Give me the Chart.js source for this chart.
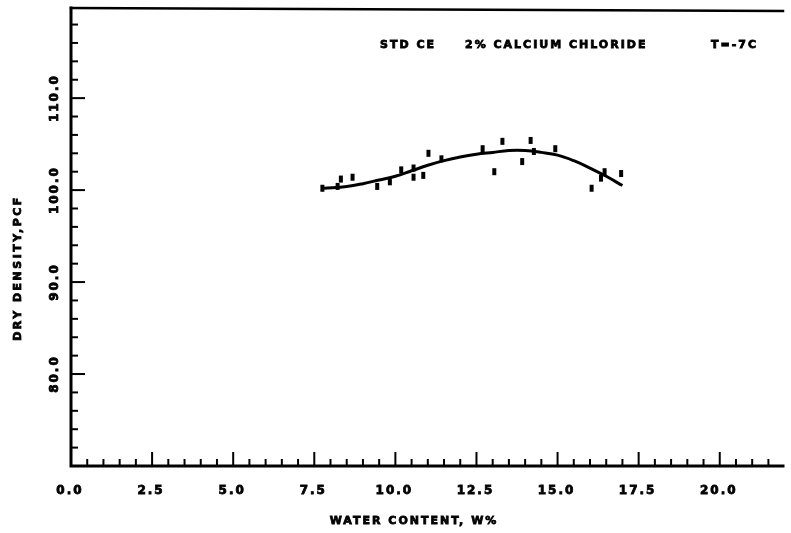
<!DOCTYPE html>
<html>
<head>
<meta charset="utf-8">
<script src="https://cdn.jsdelivr.net/npm/chart.js@4/dist/chart.umd.min.js"></script>
<style>
  html, body { margin: 0; padding: 0; background: #fff; }
  #c { display: block; }
</style>
</head>
<body>
<canvas id="c" width="791" height="533"></canvas>
<script>
// measured points (water content %, dry density pcf)
var pointX = [7.75, 8.22, 8.32, 8.68, 9.44, 9.83, 10.18, 10.56, 10.56, 10.86, 11.02, 11.42,
              12.69, 13.05, 13.30, 13.91, 14.17, 14.27, 14.93, 16.05, 16.34, 16.45, 16.96];
var pointY = [100.2, 100.4, 101.2, 101.4, 100.4, 100.9, 102.2, 102.4, 101.4, 101.6, 104.0, 103.4,
              104.5, 102.0, 105.3, 103.1, 105.4, 104.2, 104.5, 100.2, 101.3, 102.0, 101.8];

// fitted curve
var curveX = [7.8, 8.5, 9.0, 9.5, 10.0, 10.5, 11.0, 11.5, 12.0, 12.5, 13.0, 13.5, 14.0, 14.5, 15.0, 15.5, 16.0, 16.5, 17.0];
var curveY = [100.2, 100.4, 100.7, 101.1, 101.5, 102.1, 102.7, 103.2, 103.6, 103.9, 104.1, 104.3, 104.3, 104.1, 103.8, 103.2, 102.4, 101.5, 100.5];

// axis ticks and labels
var xMajor = [0, 2.5, 5, 7.5, 10, 12.5, 15, 17.5, 20];
var xMajorLabels = ['0.0', '2.5', '5.0', '7.5', '10.0', '12.5', '15.0', '17.5', '20.0'];
var yMajor = [80, 90, 100, 110];
var yMajorLabels = ['80.0', '90.0', '100.0', '110.0'];

var titleParts = ['STD CE', '2% CALCIUM CHLORIDE', 'T=-7C'];
var xTitle = 'WATER CONTENT, W%';
var yTitle = 'DRY DENSITY,PCF';

function toXY(xs, ys) {
    return xs.map(function(x, i) { return { x: x, y: ys[i] }; });
}

var FONT = '"DejaVu Sans", sans-serif';

// heavy text: fill + thin stroke, like the old plotter lettering
function heavyText(ctx, txt, x, y) {
    ctx.fillText(txt, x, y);
    ctx.strokeText(txt, x, y);
}

// ====== frame, inward ticks and text drawn with the chart's scales ======
var framePlugin = {
    id: 'frame',
    afterDraw: function(chart) {
        var ctx = chart.ctx;
        var xs = chart.scales.x, ys = chart.scales.y;
        var a = chart.chartArea;
        ctx.save();
        ctx.strokeStyle = '#000';
        ctx.fillStyle = '#000';
        ctx.lineCap = 'square';

        // axes lines + top border
        ctx.lineWidth = 3;
        ctx.beginPath();
        ctx.moveTo(a.left, a.top);
        ctx.lineTo(a.left, a.bottom);
        ctx.lineTo(a.right, a.bottom);
        ctx.stroke();
        ctx.lineWidth = 2.5;
        ctx.beginPath();
        ctx.moveTo(a.left, a.top);
        ctx.lineTo(a.right, a.top + 3);
        ctx.stroke();

        // x ticks (every 0.5, major every 2.5)
        ctx.lineWidth = 2;
        for (var v = 0.5; v <= xs.max + 1e-6; v += 0.5) {
            var px = xs.getPixelForValue(v);
            var major = Math.abs(v / 2.5 - Math.round(v / 2.5)) < 1e-6;
            ctx.beginPath();
            ctx.moveTo(px, a.bottom);
            ctx.lineTo(px, a.bottom - (major ? 13 : 6));
            ctx.stroke();
        }
        // y ticks (every 2, major every 10)
        for (var w = 72; w <= ys.max + 1e-6; w += 2) {
            var py = ys.getPixelForValue(w);
            var maj = w % 10 === 0;
            ctx.beginPath();
            ctx.moveTo(a.left, py);
            ctx.lineTo(a.left + (maj ? 13 : 6), py);
            ctx.stroke();
        }

        ctx.lineWidth = 0.8;
        // x tick labels
        ctx.font = 'bold 12px ' + FONT;
        ctx.letterSpacing = '2px';
        ctx.textAlign = 'center';
        ctx.textBaseline = 'middle';
        xMajor.forEach(function(v, i) {
            heavyText(ctx, xMajorLabels[i], xs.getPixelForValue(v) - 1, 491);
        });

        // y tick labels, rotated
        yMajor.forEach(function(v, i) {
            ctx.save();
            ctx.translate(55, ys.getPixelForValue(v));
            ctx.rotate(-Math.PI / 2);
            heavyText(ctx, yMajorLabels[i], 0, 0);
            ctx.restore();
        });

        // axis titles
        ctx.font = 'bold 11px ' + FONT;
        ctx.letterSpacing = '2px';
        heavyText(ctx, xTitle, 414, 521);
        ctx.save();
        ctx.translate(18, 268);
        ctx.rotate(-Math.PI / 2);
        ctx.letterSpacing = '2.5px';
        heavyText(ctx, yTitle, 0, 0);
        ctx.restore();

        // header text
        ctx.font = 'bold 11px ' + FONT;
        ctx.letterSpacing = '2px';
        ctx.textAlign = 'left';
        heavyText(ctx, titleParts[0], 380, 45);
        heavyText(ctx, titleParts[1], 465, 45);
        heavyText(ctx, titleParts[2], 711, 45);
        ctx.restore();
    }
};

var chart = new Chart(document.getElementById('c').getContext('2d'), {
    type: 'scatter',
    data: {
        datasets: [{
            label: 'fit',
            data: toXY(curveX, curveY),
            showLine: true,
            borderColor: '#000',
            borderWidth: 3,
            pointRadius: 0,
            tension: 0.4
        }, {
            label: 'points',
            data: toXY(pointX, pointY),
            pointStyle: 'line',
            rotation: 90,
            radius: 3.5,
            borderWidth: 4,
            borderColor: '#000',
            backgroundColor: '#000'
        }]
    },
    options: {
        responsive: false,
        animation: false,
        devicePixelRatio: 1,
        layout: { padding: { left: 71, right: 0, top: 8, bottom: 67 } },
        plugins: { legend: { display: false }, tooltip: { enabled: false } },
        scales: {
            x: { type: 'linear', min: 0, max: 21.95, display: false },
            y: { type: 'linear', min: 70, max: 119.8, display: false }
        }
    },
    plugins: [framePlugin]
});
</script>
</body>
</html>
